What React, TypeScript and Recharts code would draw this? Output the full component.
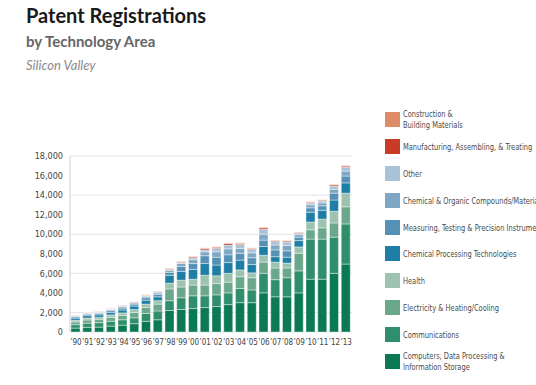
import React from 'react';
import { BarChart, Bar, XAxis, YAxis, CartesianGrid } from 'recharts';

const years = ["’90", "’91", "’92", "’93", "’94", "’95", "’96", "’97", "’98", "’99", "’00", "’01", "’02", "’03", "’04", "’05", "’06", "’07", "’08", "’09", "’10", "’11", "’12", "’13"];

// bottom to top of each stack
const computers = [400, 480, 500, 600, 700, 850, 1100, 1250, 2200, 2300, 2400, 2500, 2600, 2800, 3000, 3000, 4000, 3600, 3600, 4000, 5400, 5400, 6000, 6950];
const communications = [350, 420, 450, 500, 550, 600, 800, 900, 1000, 1200, 1300, 1200, 1200, 1200, 1450, 1300, 2000, 1750, 1950, 2250, 4100, 4100, 3700, 4100];
const electricity = [280, 330, 350, 400, 450, 550, 600, 700, 1200, 1100, 1100, 1100, 1150, 1100, 1200, 1250, 1150, 1200, 1000, 1800, 950, 1150, 1450, 1750];
const health = [170, 200, 200, 250, 250, 300, 350, 350, 600, 700, 600, 1000, 800, 900, 700, 500, 700, 600, 500, 650, 800, 900, 1200, 1400];
const chemProcessing = [220, 240, 250, 250, 300, 350, 400, 400, 800, 900, 1000, 1200, 1100, 1100, 1000, 850, 900, 550, 600, 650, 1000, 900, 1150, 1050];
const measuring = [130, 150, 150, 180, 200, 200, 250, 250, 300, 500, 600, 800, 800, 800, 700, 700, 650, 700, 650, 350, 450, 450, 700, 700];
const chemOrganic = [80, 90, 100, 110, 130, 130, 150, 150, 200, 300, 400, 400, 550, 600, 500, 500, 600, 500, 550, 250, 300, 300, 400, 500];
const other = [30, 40, 50, 60, 60, 60, 80, 100, 100, 100, 200, 200, 350, 400, 400, 350, 500, 350, 350, 150, 200, 200, 330, 400];
const manufacturing = [30, 30, 30, 30, 40, 40, 50, 50, 80, 80, 100, 150, 120, 150, 120, 100, 150, 100, 100, 80, 80, 80, 120, 120];
const construction = [10, 20, 20, 20, 20, 20, 20, 30, 30, 40, 40, 50, 50, 60, 50, 50, 60, 50, 50, 40, 40, 40, 50, 50];

const yTicks = [0, 2000, 4000, 6000, 8000, 10000, 12000, 14000, 16000, 18000];

const series = [
  { key: 'computers', lines: ['Computers, Data Processing &', 'Information Storage'], color: '#0b7a52', values: computers },
  { key: 'communications', lines: ['Communications'], color: '#2f8e6b', values: communications },
  { key: 'electricity', lines: ['Electricity & Heating/Cooling'], color: '#6ba78a', values: electricity },
  { key: 'health', lines: ['Health'], color: '#9dc3b0', values: health },
  { key: 'chemProcessing', lines: ['Chemical Processing Technologies'], color: '#1f7ea6', values: chemProcessing },
  { key: 'measuring', lines: ['Measuring, Testing & Precision Instruments'], color: '#5590b5', values: measuring },
  { key: 'chemOrganic', lines: ['Chemical & Organic Compounds/Materials'], color: '#7ea7c3', values: chemOrganic },
  { key: 'other', lines: ['Other'], color: '#a9c3d6', values: other },
  { key: 'manufacturing', lines: ['Manufacturing, Assembling, & Treating'], color: '#c93a27', values: manufacturing },
  { key: 'construction', lines: ['Construction &', 'Building Materials'], color: '#df8a66', values: construction },
];

const data = years.map((year, i) => {
  const row: Record<string, string | number> = { year };
  series.forEach((s) => { row[s.key] = s.values[i]; });
  return row;
});

const narrow = '"DejaVu Sans Condensed", "DejaVu Sans", sans-serif';

const fmt = (v: number) => v.toLocaleString('en-US');

const App: React.FC = () => {
  return (
    <div style={{ position: 'absolute', left: 0, top: 0, width: 536, height: 385, overflow: 'hidden', background: '#fff', fontFamily: 'Lato, sans-serif' }}>
      <div style={{ position: 'absolute', left: 26, top: 3, fontSize: 20, fontWeight: 700, color: '#1a1a1a' }}>Patent Registrations</div>
      <div style={{ position: 'absolute', left: 26, top: 32, fontSize: 15, fontWeight: 700, color: '#666' }}>by Technology Area</div>
      <div style={{ position: 'absolute', left: 26, top: 57, fontSize: 13, fontStyle: 'italic', color: '#8a8a8a' }}>Silicon Valley</div>

      <BarChart
        width={536}
        height={385}
        data={data}
        margin={{ top: 156, right: 184, left: 20, bottom: 33 }}
        barSize={9}
      >
        <CartesianGrid vertical={false} stroke="#e2e2e2" />
        <XAxis
          dataKey="year"
          axisLine={false}
          tickLine={false}
          interval={0}
          height={20}
          tick={{ fontFamily: narrow, fontSize: 8, fill: '#444' }}
          tickMargin={1}
        />
        <YAxis
          width={50}
          domain={[0, 18000]}
          ticks={yTicks}
          tickFormatter={fmt}
          axisLine={{ stroke: '#cfcfcf' }}
          tickLine={false}
          tick={{ fontFamily: narrow, fontSize: 9, fill: '#444' }}
          tickMargin={1}
        />
        {series.map((s) => (
          <Bar key={s.key} dataKey={s.key} stackId="a" fill={s.color} stroke="#fff" strokeWidth={0.4} isAnimationActive={false} />
        ))}
      </BarChart>

      {/* legend, top item first */}
      <div style={{ position: 'absolute', left: 385, top: 106, fontFamily: narrow, fontSize: 9.5, color: '#4a4a4a' }}>
        {[...series].reverse().map((s) => (
          <div key={s.key} style={{ display: 'flex', alignItems: 'center', height: 26.9, whiteSpace: 'nowrap' }}>
            <div style={{ width: 15, height: 15, background: s.color, marginRight: 3, flexShrink: 0 }} />
            <div style={{ lineHeight: '11px', transform: 'scaleX(0.78)', transformOrigin: 'left center' }}>
              {s.lines.map((l) => <div key={l}>{l}</div>)}
            </div>
          </div>
        ))}
      </div>
    </div>
  );
};

export default App;
